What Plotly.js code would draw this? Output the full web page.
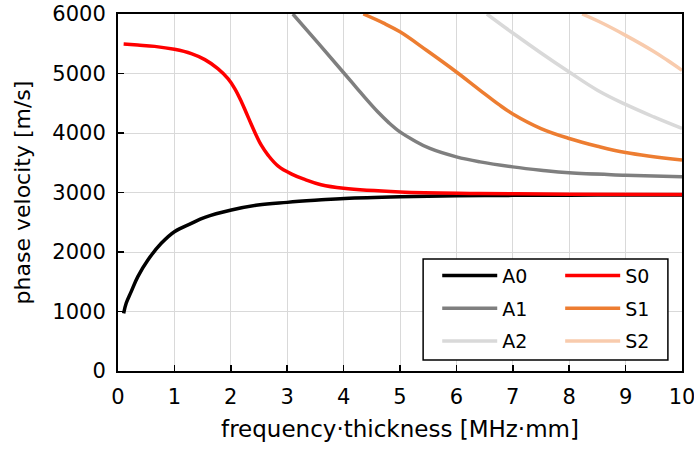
<!DOCTYPE html>
<html>
<head>
<meta charset="utf-8">
<script src="https://cdn.plot.ly/plotly-3.0.1.min.js"></script>
<style>html,body{margin:0;padding:0;background:#fff;}#chart{width:694px;height:449px;}</style>
</head>
<body>
<div id="chart"></div>
<script>
// frequency-thickness [MHz·mm] and phase velocity [m/s]
const A0_x = [0.1,0.145,0.234,0.352,0.53,0.767,1.0,1.3,1.54,2.01,2.48,3.0,3.55,4.02,5.0,6.0,7.0,8.0,9.0,10.0];
const A0_y = [970,1139,1334,1586,1866,2146,2341,2481,2582,2705,2789,2834,2872,2901,2930,2945,2952,2955,2957,2958];

const S0_x = [0.1,0.35,0.65,1.0,1.3,1.54,1.77,1.95,2.07,2.19,2.28,2.37,2.45,2.54,2.66,2.84,3.08,3.31,3.6,4.0,5.0,6.4,8.0,10.0];
const S0_y = [5495,5478,5456,5406,5334,5233,5082,4914,4747,4522,4327,4131,3963,3795,3628,3443,3309,3220,3130,3070,3010,2985,2972,2968];

const A1_x = [3.1,3.55,3.99,4.23,4.41,4.6,4.8,5.0,5.24,5.53,6.0,6.42,7.0,7.5,8.0,9.0,10.0];
const A1_y = [6000,5510,5025,4760,4560,4360,4175,4018,3879,3740,3599,3515,3431,3375,3331,3292,3263];

const S1_x = [4.35,4.7,5.0,5.47,6.0,6.42,6.75,7.0,7.5,8.0,8.5,9.0,10.0];
const S1_y = [6000,5850,5700,5390,5025,4718,4480,4320,4075,3908,3778,3673,3544];

const A2_x = [6.54,7.0,7.5,8.0,8.5,9.0,9.5,10.0];
const A2_y = [6000,5680,5345,5025,4720,4480,4270,4076];

const S2_x = [8.23,8.6,9.0,9.5,9.74,10.0];
const S2_y = [6000,5840,5641,5370,5222,5054];

const seriesNames = ['A0','S0','A1','S1','A2','S2'];
const xTicks = [0,1,2,3,4,5,6,7,8,9,10];
const yTicks = [0,1000,2000,3000,4000,5000,6000];

const FONT = 'DejaVu Sans, Verdana, sans-serif';

function tr(name, xs, ys, color, legend) {
  return {
    x: xs, y: ys, name: name, type: 'scatter', mode: 'lines',
    line: {color: color, width: 3.5, shape: 'spline', smoothing: 1.1},
    legend: legend, legendgroup: name, hoverinfo: 'skip'
  };
}

const data = [
  tr(seriesNames[0], A0_x, A0_y, '#000000', 'legend'),
  tr(seriesNames[2], A1_x, A1_y, '#7F7F7F', 'legend'),
  tr(seriesNames[4], A2_x, A2_y, '#D9D9D9', 'legend'),
  tr(seriesNames[1], S0_x, S0_y, '#FF0000', 'legend2'),
  tr(seriesNames[3], S1_x, S1_y, '#ED7D31', 'legend2'),
  tr(seriesNames[5], S2_x, S2_y, '#F8CBAD', 'legend2')
];

const legendCommon = {
  bgcolor: 'rgba(0,0,0,0)', borderwidth: 0,
  font: {family: FONT, size: 19, color: '#000'},
  tracegroupgap: 5, yanchor: 'top', xanchor: 'left',
  orientation: 'v', itemclick: false, itemdoubleclick: false,
  itemwidth: 55
};

const layout = {
  width: 694, height: 449,
  margin: {l: 118, r: 12, t: 14, b: 78},
  paper_bgcolor: '#fff', plot_bgcolor: '#fff',
  font: {family: FONT, size: 20, color: '#000'},
  showlegend: true,
  xaxis: {
    range: [0, 10], tickvals: xTicks, ticktext: xTicks.map(String),
    ticks: 'inside', ticklen: 6, tickwidth: 1.5, tickcolor: '#000',
    showline: true, linewidth: 2, linecolor: '#000', mirror: true,
    showgrid: true, gridcolor: '#D9D9D9', gridwidth: 1, zeroline: false,
    tickfont: {family: FONT, size: 21, color: '#000'},
    ticklabelstandoff: 6, ticklabeloverflow: 'allow',
    title: {text: 'frequency·thickness [MHz·mm]', font: {family: FONT, size: 23, color: '#000'}, standoff: 13},
    fixedrange: true
  },
  yaxis: {
    range: [0, 6000], tickvals: yTicks, ticktext: yTicks.map(String),
    ticks: 'inside', ticklen: 6, tickwidth: 1.5, tickcolor: '#000',
    showline: true, linewidth: 2, linecolor: '#000', mirror: true,
    showgrid: true, gridcolor: '#D9D9D9', gridwidth: 1, zeroline: false,
    tickfont: {family: FONT, size: 21, color: '#000'},
    ticklabelstandoff: 6, ticklabeloverflow: 'allow',
    title: {text: 'phase velocity [m/s]', font: {family: FONT, size: 22, color: '#000'}, standoff: 16},
    fixedrange: true
  },
  legend: Object.assign({}, legendCommon, {x: 0.566, y: 0.32}),
  legend2: Object.assign({}, legendCommon, {x: 0.784, y: 0.32}),
  shapes: [{
    type: 'rect', xref: 'paper', yref: 'paper',
    x0: 0.541, x1: 0.975, y0: 0.031, y1: 0.314,
    line: {color: '#000', width: 1.5}, fillcolor: '#fff', layer: 'above'
  }]
};

Plotly.newPlot('chart', data, layout, {displayModeBar: false, staticPlot: true});
</script>
</body>
</html>
